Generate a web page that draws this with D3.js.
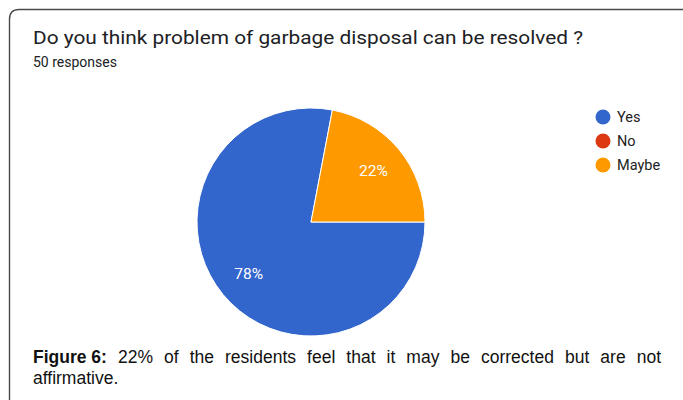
<!DOCTYPE html>
<html>
<head>
<meta charset="utf-8">
<script src="https://cdn.jsdelivr.net/npm/d3@7"></script>
<style>
  html, body { margin: 0; padding: 0; background: #fff; }
  svg { display: block; }
</style>
</head>
<body>
<svg id="chart" width="683" height="400"></svg>
<script>
// Survey answers
const categories = ["Yes", "No", "Maybe"];
const percents = [78, 0, 22];
const colors = ["#3366cc", "#dc3912", "#ff9900"];
const title = "Do you think problem of garbage disposal can be resolved ?";
const subtitle = "50 responses";
const captionBold = "Figure 6:";
const captionLine1 = "22% of the residents feel that it may be corrected but are not";
const captionLine2 = "affirmative.";

const svg = d3.select("#chart");

// Card outline (top and left edges, cut off at right and bottom)
svg.append("path")
  .attr("d", "M9.5,400 L9.5,19 Q9.5,9.5 19,9.5 L683,9.5")
  .attr("fill", "none")
  .attr("stroke", "#4a4a4a")
  .attr("stroke-width", 1.4);

svg.append("text")
  .attr("x", 33).attr("y", 44)
  .attr("font-family", "Roboto, 'Noto Sans', sans-serif")
  .attr("font-size", 18)
  .attr("fill", "#202124")
  .attr("textLength", 550)
  .attr("lengthAdjust", "spacingAndGlyphs")
  .text(title);

svg.append("text")
  .attr("x", 33).attr("y", 67)
  .attr("font-family", "Roboto, 'Noto Sans', sans-serif")
  .attr("font-size", 14)
  .attr("fill", "#202124")
  .text(subtitle);

// Pie: slices start at 3 o'clock and run clockwise
const cx = 311, cy = 222, radius = 114;
const pie = d3.pie().sort(null).value(d => d)
  .startAngle(Math.PI / 2).endAngle(Math.PI / 2 + 2 * Math.PI);
const arcs = pie(percents);
const arc = d3.arc().innerRadius(0).outerRadius(radius);
const labelArc = d3.arc().innerRadius(radius * 0.71).outerRadius(radius * 0.71);

const g = svg.append("g").attr("transform", `translate(${cx},${cy})`);
g.selectAll("path.slice")
  .data(arcs.filter(a => a.value > 0))
  .join("path")
  .attr("class", "slice")
  .attr("d", arc)
  .attr("fill", d => colors[d.index])
  .attr("stroke", "#ffffff")
  .attr("stroke-width", 1);

g.selectAll("text.pct")
  .data(arcs.filter(a => a.value > 0))
  .join("text")
  .attr("class", "pct")
  .attr("transform", d => `translate(${labelArc.centroid(d)})`)
  .attr("text-anchor", "middle")
  .attr("dy", "0.35em")
  .attr("font-family", "Roboto, 'Noto Sans', sans-serif")
  .attr("font-size", 15.5)
  .attr("fill", "#ffffff")
  .text(d => d.value + "%");

// Legend
const legendY = d3.scalePoint().domain(categories).range([117, 165]);
const legend = svg.append("g");
const item = legend.selectAll("g").data(categories).join("g")
  .attr("transform", d => `translate(603,${legendY(d)})`);
item.append("circle").attr("r", 7.5).attr("fill", (d, i) => colors[i]);
item.append("text")
  .attr("x", 14).attr("dy", "0.35em")
  .attr("font-family", "Roboto, 'Noto Sans', sans-serif")
  .attr("font-size", 14.5)
  .attr("fill", "#222222")
  .text(d => d);

// Justified caption
const capFont = "'Liberation Sans', Arial, sans-serif";
const capSize = 17.5;
const left = 33, right = 661;
const words = [{ t: captionBold, b: true }].concat(captionLine1.split(" ").map(t => ({ t, b: false })));
const capG = svg.append("g");
const nodes = words.map(w => capG.append("text")
  .attr("y", 363)
  .attr("font-family", capFont)
  .attr("font-size", capSize)
  .attr("font-weight", w.b ? "bold" : "normal")
  .attr("fill", "#111111")
  .text(w.t));
const widths = nodes.map(n => n.node().getComputedTextLength());
const total = d3.sum(widths);
const gap = (right - left - total) / (words.length - 1);
let x = left;
nodes.forEach((n, i) => { n.attr("x", x); x += widths[i] + gap; });

capG.append("text")
  .attr("x", left).attr("y", 384)
  .attr("font-family", capFont)
  .attr("font-size", capSize)
  .attr("fill", "#111111")
  .text(captionLine2);
</script>
</body>
</html>
